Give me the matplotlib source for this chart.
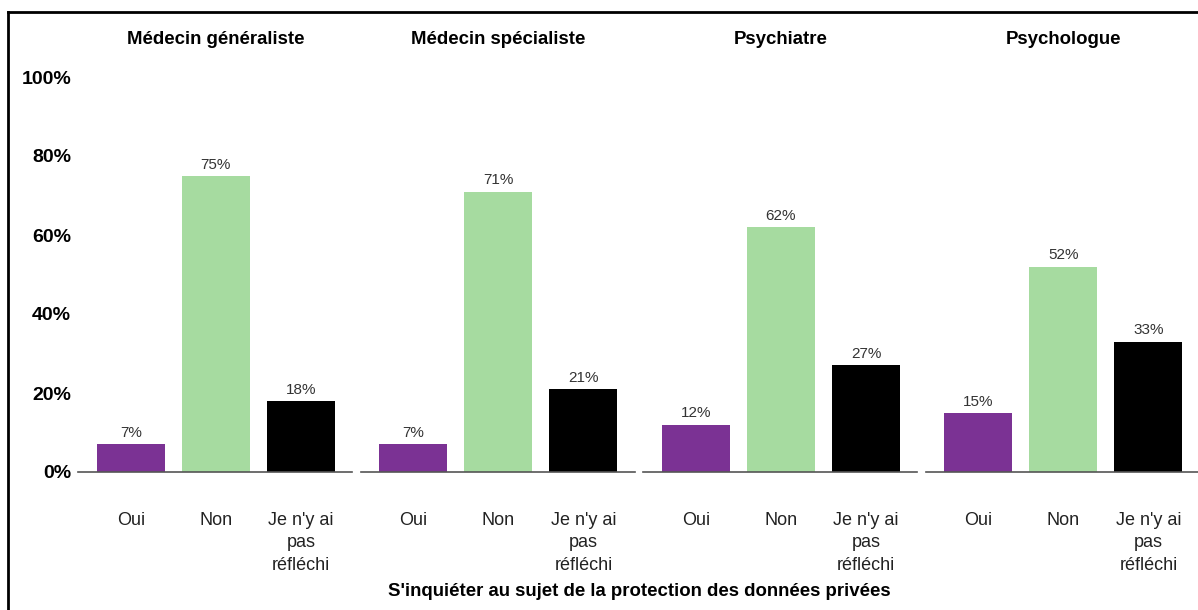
import matplotlib
import matplotlib.pyplot as plt
from matplotlib.lines import Line2D

matplotlib.use("Agg")
plt.rcParams["font.family"] = ["Liberation Sans", "DejaVu Sans"]

# Data
panels = ["Médecin généraliste", "Médecin spécialiste", "Psychiatre", "Psychologue"]
categories = ["Oui", "Non", "Je n'y ai\npas\nréfléchi"]
values = [
    [7, 75, 18],
    [7, 71, 21],
    [12, 62, 27],
    [15, 52, 33],
]
colors = ["#7b3294", "#a6dba0", "#000000"]
x_title = "S'inquiéter au sujet de la protection des données privées"
y_ticks = [0, 20, 40, 60, 80, 100]

W, H = 1198, 610
fig = plt.figure(figsize=(W / 100, H / 100), dpi=100)

ax_w = 274 / W
ax_h = 395 / H
ax_b = 1 - 472 / H

for i, name in enumerate(panels):
    left = (78 + i * 282.5) / W
    ax = fig.add_axes([left, ax_b, ax_w, ax_h])
    xs = range(len(categories))
    bars = ax.bar(xs, values[i], width=0.8, color=colors)
    for b, v in zip(bars, values[i]):
        ax.annotate(f"{v}%", (b.get_x() + b.get_width() / 2, v),
                    xytext=(0, 3), textcoords="offset points",
                    ha="center", va="bottom", fontsize=11, color="#333333")
    ax.set_xlim(-0.62, 2.6)
    ax.set_ylim(0, 100)
    ax.set_xticks(list(xs))
    ax.set_xticklabels(categories, fontsize=13, color="#222222", linespacing=1.4)
    ax.tick_params(axis="x", length=0, pad=29)
    for s in ["top", "right", "left"]:
        ax.spines[s].set_visible(False)
    ax.spines["bottom"].set_color("#555555")
    ax.spines["bottom"].set_linewidth(1.2)
    if i == 0:
        ax.set_yticks(y_ticks)
        ax.set_yticklabels([f"{t}%" for t in y_ticks], fontsize=14, fontweight="bold")
        ax.tick_params(axis="y", length=0, pad=5)
    else:
        ax.set_yticks([])
    fig.text(left + ax_w * (0.62 + 1) / 3.22, 1 - 40 / H, name,
             ha="center", va="center", fontsize=13.4, fontweight="bold")

fig.text(639 / W, 1 - 591 / H, x_title, ha="center", va="center",
         fontsize=13.4, fontweight="bold")

# border around the chart
fig.add_artist(Line2D([8 / W, 8 / W], [0, 1 - 12 / H], color="black", lw=2,
                      transform=fig.transFigure))
fig.add_artist(Line2D([8 / W, 1], [1 - 12 / H, 1 - 12 / H], color="black", lw=2,
                      transform=fig.transFigure))

fig.savefig("out.png", dpi=100)
